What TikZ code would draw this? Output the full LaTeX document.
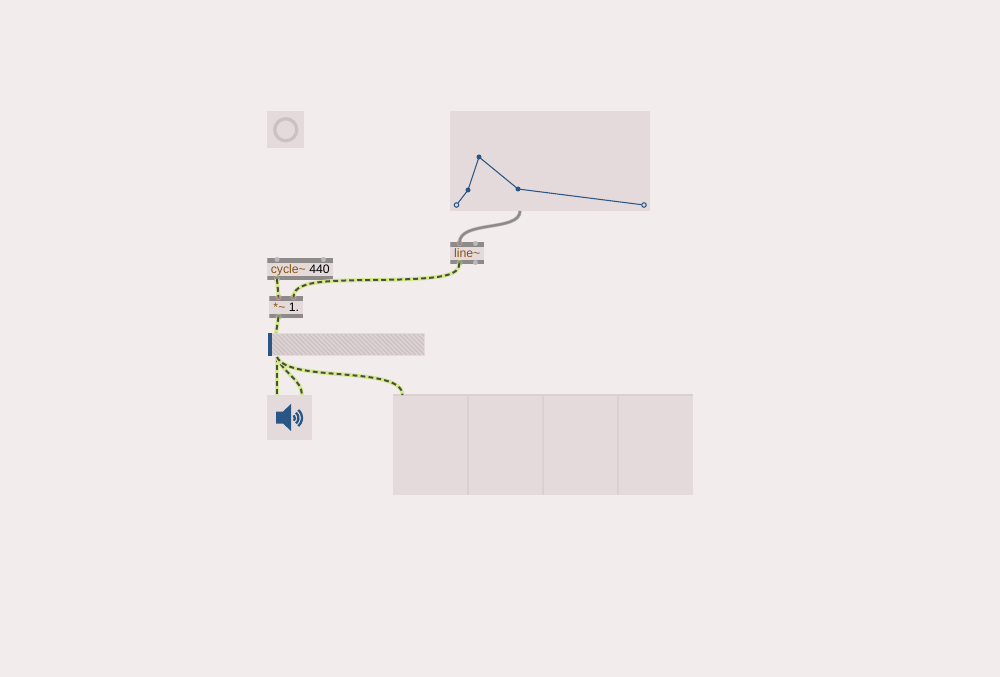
\documentclass[tikz,border=0pt]{standalone}
\usepackage{fontspec}
\setmainfont{Liberation Sans}
\usepackage{xcolor}
\usetikzlibrary{positioning,patterns.meta}
\definecolor{pagecol}{HTML}{F2ECED}
\definecolor{boxcol}{HTML}{E5DADB}
\definecolor{barcol}{HTML}{8E8A8A}
\definecolor{knobcol}{HTML}{BDB8B8}
\definecolor{objcol}{HTML}{8A5310}
\definecolor{bluecol}{HTML}{2A5685}
\definecolor{cordcol}{HTML}{D5E88C}
\definecolor{darkcol}{HTML}{4A4D44}
\definecolor{hatchcol}{HTML}{C9C0C1}
\def\px{0.75pt}
\tikzset{
  panel/.style={fill=boxcol,inner sep=0pt,anchor=north west},
  objbox/.style={panel,text height=7pt,text depth=0.8pt,font=\fontsize{9.2}{9.2}\selectfont,
    path picture={
      \fill[barcol] (path picture bounding box.north west) rectangle ([yshift=-3.3pt]path picture bounding box.north east);
      \fill[barcol] (path picture bounding box.south west) rectangle ([yshift=3.3pt]path picture bounding box.south east);
    }},
  knob/.style={circle,fill=knobcol,inner sep=0pt,minimum size=5*\px},
  inlet/.style={circle,draw=#1,line width=0.45pt,inner sep=0pt,minimum size=5.5*\px},
  inport/.style={inlet=red!35!boxcol},
  outport/.style={inlet=cordcol!80!black},
  breakpt/.style={circle,fill=bluecol,inner sep=0pt,minimum size=5*\px},
  endpt/.style={circle,draw=bluecol,fill=boxcol,line width=0.8pt,inner sep=0pt,minimum size=4.5*\px},
  sigcord/.style={draw=darkcol,line width=1.5pt,dash pattern=on 3.6pt off 2.4pt,
    preaction={draw=cordcol,solid,line width=2.9pt}},
  msgcord/.style={draw=barcol,line width=1.7pt,preaction={draw=knobcol,line width=2.6pt}},
  divider/.style={draw=hatchcol!40!boxcol,line width=1pt}
}
\begin{document}
\begin{tikzpicture}[x=0.75pt,y=-0.75pt]
\useasboundingbox[fill=pagecol] (0,0) rectangle (1000,677);
% nodes
\node[panel,minimum width=37*\px,minimum height=37*\px] (toggle) at (267,111) {};
\node[circle,draw=knobcol!70!boxcol,line width=2.4pt,inner sep=0pt,minimum size=22*\px] (ring) at (toggle.center) {};

\node[panel,minimum width=200*\px,minimum height=100*\px] (func) at (450,111) {};
\node[endpt] (p1) at (456.5,205) {};
\node[breakpt] (p2) at (468,190) {};
\node[breakpt] (p3) at (479,157) {};
\node[breakpt] (p4) at (518,189) {};
\node[endpt] (p5) at (644,205) {};
\coordinate (funcout) at (520,211);

\node[objbox,minimum width=34*\px,minimum height=22*\px] (linebox) at (450,242) {\textcolor{objcol}{line\textasciitilde}};
\node[objbox,minimum width=66*\px,minimum height=22*\px] (cycle) at (267,258) {\textcolor{objcol}{cycle\textasciitilde}\ \textcolor{black}{440}};
\node[objbox,minimum width=34*\px,minimum height=22*\px] (mul) at (269,296) {\textcolor{objcol}{*\textasciitilde}\ \textcolor{black}{1.}};

\node[panel,minimum width=155.6*\px,minimum height=22.4*\px,draw=boxcol,line width=0.6pt,
  preaction={fill=boxcol!70!hatchcol},
  pattern={Lines[angle=-45,distance=2.4pt,line width=0.75pt]},pattern color=hatchcol] (gain) at (268.3,332.8) {};
\node[inner sep=0pt,anchor=north west,fill=bluecol,minimum width=4*\px,minimum height=23*\px] (handle) at (268,332.8) {};

\node[panel,minimum width=45*\px,minimum height=45*\px] (dac) at (267,395) {};
\fill[bluecol] (276,411.5) -- (283,411.5) -- (291,404) -- (291,431) -- (283,423.5) -- (276,423.5) -- cycle;
\foreach \r in {3.5,7,10.5}
  \draw[bluecol,line width=1.7pt] (291.5,418) ++(-50:\r) arc (-50:50:\r);

\node[panel,minimum width=300*\px,minimum height=100*\px] (scope) at (393,395) {};
\draw[divider] (scope.north west) -- ([xshift=-0.5pt]scope.north east);
\foreach \x in {468,543,618}
  \draw[divider] (\x,395) -- (\x,495);

% ports
\node[knob] (k1) at (277,259.5) {};
\node[knob] (k2) at (323.5,259.5) {};
\node[knob] (k3) at (475.5,243.5) {};
\node[knob] (k4) at (475.5,262.5) {};
\node[outport] (cycleout) at (277,279) {};
\node[inport] (mulin1) at (278.5,297) {};
\node[inport] (mulin2) at (293.5,297) {};
\node[outport] (mulout) at (278.5,317) {};
\node[inport] (linein) at (459.5,243) {};
\node[outport] (lineout) at (459.5,263) {};
\coordinate (gainin) at (276,333);
\coordinate (gainout) at (277,357);
\coordinate (dacin1) at (277,395);
\coordinate (dacin2) at (302,395);
\coordinate (scopein) at (402.5,395);

% edges
\draw[bluecol,line width=0.8pt] (p1) -- (p2.center) -- (p3.center) -- (p4.center) -- (p5);
\draw[msgcord] (funcout) .. controls (520,232) and (459,220) .. (linein.center);
\draw[sigcord] (cycleout.center) -- (mulin1.center);
\draw[sigcord] (lineout.center) .. controls (459,275) and (445,278) .. (400,279.5) .. controls (340,281) and (293,278) .. (mulin2.center);
\draw[sigcord] (mulout.center) -- (gainin);
\draw[sigcord] (gainout) -- (dacin1);
\draw[sigcord] (gainout) .. controls (283,373) and (302,380) .. (dacin2);
\draw[sigcord] (gainout) .. controls (288,383) and (402,365) .. (scopein);
\end{tikzpicture}
\end{document}
